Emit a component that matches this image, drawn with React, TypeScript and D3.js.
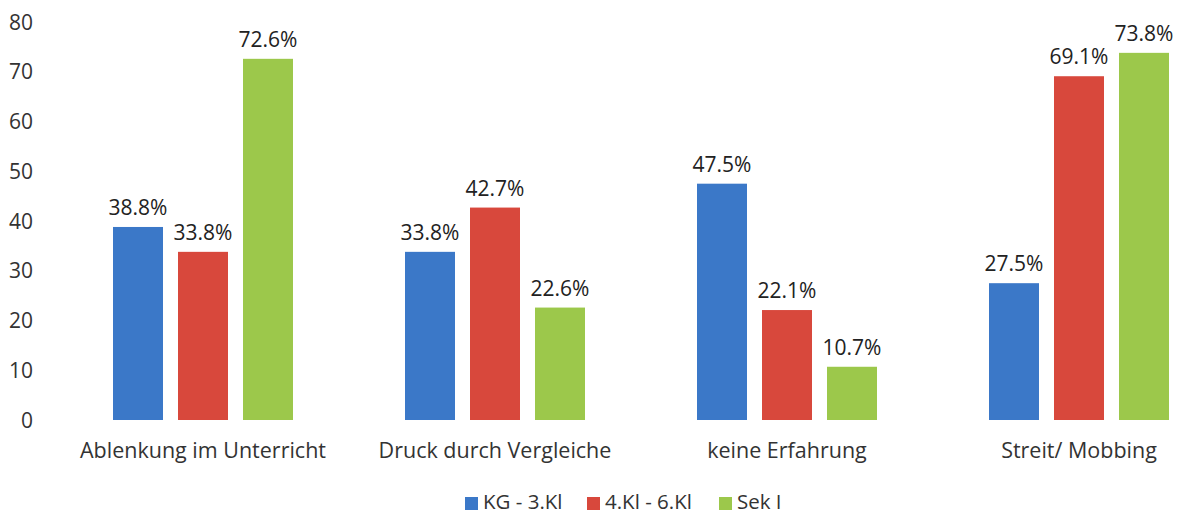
import * as d3 from 'd3';
import React from 'react';

const categories = ['Ablenkung im Unterricht', 'Druck durch Vergleiche', 'keine Erfahrung', 'Streit/ Mobbing'];
const seriesNames = ['KG - 3.Kl', '4.Kl - 6.Kl', 'Sek I'];
const kg3 = [38.8, 33.8, 47.5, 27.5];
const kl46 = [33.8, 42.7, 22.1, 69.1];
const sek1 = [72.6, 22.6, 10.7, 73.8];
const yTicks = [0, 10, 20, 30, 40, 50, 60, 70, 80];
const colors = ['#3b78c8', '#d8483c', '#9cc84b'];

const W = 1178;
const H = 514;
const FONT = "'Open Sans', 'Noto Sans', sans-serif";

export default function App() {
  const series = [kg3, kl46, sek1];
  const x = d3.scaleBand().domain(categories).range([57, 1225]).paddingInner(0).paddingOuter(0);
  const y = d3.scaleLinear().domain([0, 80]).range([420, 22]);
  const barW = 50;
  const step = 65;

  // legend items laid out one after another
  const legendX = [465, 587, 719];

  return (
    <div style={{ position: 'fixed', left: 0, top: 0 }}>
      <svg width={W} height={H} style={{ display: 'block', background: '#fff' }} fontFamily={FONT}>
        {yTicks.map(t => (
          <text key={t} x={33} y={y(t)} dy="0.36em" textAnchor="end" fontSize={21} fill="#333">{t}</text>
        ))}
        {categories.map((c, i) => {
          const cx = (x(c) as number) + x.bandwidth() / 2;
          return (
            <g key={c}>
              {series.map((s, j) => {
                const bx = cx + (j - 1) * step - barW / 2;
                return (
                  <g key={j}>
                    <rect x={bx} y={y(s[i])} width={barW} height={y(0) - y(s[i])} fill={colors[j]} />
                    <text x={bx + barW / 2} y={y(s[i]) - 12} textAnchor="middle" fontSize={21} fill="#222">
                      {s[i].toFixed(1)}%
                    </text>
                  </g>
                );
              })}
              <text x={cx} y={458} textAnchor="middle" fontSize={21.5} fill="#333">{c}</text>
            </g>
          );
        })}
        {seriesNames.map((n, j) => (
          <g key={n}>
            <rect x={legendX[j]} y={497} width={13} height={13} fill={colors[j]} />
            <text x={legendX[j] + 18} y={509} fontSize={20.5} fill="#333">{n}</text>
          </g>
        ))}
      </svg>
    </div>
  );
}
